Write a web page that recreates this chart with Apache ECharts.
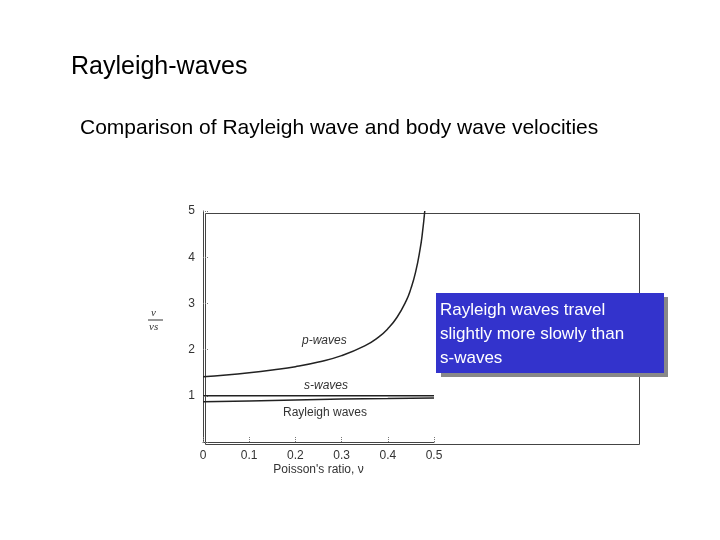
<!DOCTYPE html>
<html>
<head>
<meta charset="utf-8">
<script src="https://cdn.jsdelivr.net/npm/echarts@6/dist/echarts.min.js"></script>
<style>html,body{margin:0;background:#fff}#main{width:720px;height:540px}</style>
</head>
<body>
<div id="main"></div>
<script>
var poisson = [0, 0.05, 0.1, 0.15, 0.2, 0.25, 0.3, 0.35, 0.38, 0.4, 0.42, 0.44, 0.45, 0.46, 0.47, 0.475, 0.48];
var pWaves = [1.41, 1.45, 1.5, 1.56, 1.63, 1.73, 1.87, 2.08, 2.27, 2.45, 2.7, 3.06, 3.32, 3.67, 4.18, 4.53, 5.0];
var sX = [0, 0.5];
var sWaves = [1, 1];
var rayX = [0, 0.1, 0.2, 0.3, 0.4, 0.5];
var rayleigh = [0.87, 0.89, 0.91, 0.93, 0.94, 0.955];
var xTicks = [0, 0.1, 0.2, 0.3, 0.4, 0.5];

function pairs(xs, ys) { return xs.map(function (x, i) { return [x, ys[i]]; }); }

var chart = echarts.init(document.getElementById('main'));
var lineStyle = { color: '#222', width: 1.5 };
var tickStyle = { show: true, inside: true, length: 5, lineStyle: { color: '#777', type: 'dotted' } };
var option = {
  animation: false,
  title: [
    { text: 'Rayleigh-waves', left: 66, top: 50, textStyle: { fontFamily: 'Liberation Sans', fontWeight: 'normal', fontSize: 25, color: '#000' } },
    { text: 'Comparison of Rayleigh wave and body wave velocities', left: 75, top: 113, textStyle: { fontFamily: 'Liberation Sans', fontWeight: 'normal', fontSize: 21, color: '#000' } }
  ],
  grid: { left: 203, right: 286, top: 211, bottom: 98 },
  xAxis: {
    type: 'value', min: 0, max: 0.5, interval: 0.1,
    name: "Poisson's ratio, ν", nameLocation: 'middle', nameGap: 22,
    nameTextStyle: { fontFamily: 'Liberation Sans', fontSize: 12, color: '#333' },
    axisLine: { onZero: false, lineStyle: { color: '#444' } },
    axisTick: tickStyle, splitLine: { show: false },
    axisLabel: { fontFamily: 'Liberation Sans', fontSize: 12, color: '#333', margin: 8,
      formatter: function (v) { var s = xTicks.find(function (t) { return Math.abs(t - v) < 1e-9; }); return s === 0 ? '0' : String(s); } }
  },
  yAxis: {
    type: 'value', min: 0, max: 5, interval: 1,
    axisLine: { show: true, lineStyle: { color: '#444' } },
    axisTick: tickStyle, splitLine: { show: false },
    axisLabel: { fontFamily: 'Liberation Sans', fontSize: 12, color: '#333', margin: 8, formatter: function (v) { return v === 0 ? '' : v; } }
  },
  series: [
    { type: 'line', data: pairs(poisson, pWaves), smooth: true, showSymbol: false, lineStyle: lineStyle },
    { type: 'line', data: pairs(sX, sWaves), showSymbol: false, lineStyle: lineStyle },
    { type: 'line', data: pairs(rayX, rayleigh), smooth: true, showSymbol: false, lineStyle: lineStyle }
  ],
  graphic: [
    { type: 'rect', shape: { x: 0, y: 0, width: 434, height: 231 }, left: 203, top: 211, silent: true, style: { fill: 'none', stroke: '#444', lineWidth: 1 } },
    { type: 'text', left: 302, top: 335, style: { text: 'p-waves', fontStyle: 'italic', fontFamily: 'Liberation Sans', fontSize: 12, fill: '#333' } },
    { type: 'text', left: 304, top: 380, style: { text: 's-waves', fontStyle: 'italic', fontFamily: 'Liberation Sans', fontSize: 12, fill: '#333' } },
    { type: 'text', left: 283, top: 407, style: { text: 'Rayleigh waves', fontFamily: 'Liberation Sans', fontSize: 12, fill: '#333' } },
    { type: 'text', left: 151, top: 308, style: { text: 'v', fontStyle: 'italic', fontFamily: 'Liberation Serif', fontSize: 11, fill: '#333' } },
    { type: 'line', shape: { x1: 148, y1: 320, x2: 163, y2: 320 }, style: { stroke: '#333', lineWidth: 1 } },
    { type: 'text', left: 149, top: 322, style: { text: 'vs', fontStyle: 'italic', fontFamily: 'Liberation Serif', fontSize: 11, fill: '#333' } },
    { type: 'rect', shape: { x: 441, y: 297, width: 227, height: 80 }, style: { fill: '#888' } },
    { type: 'rect', shape: { x: 436, y: 293, width: 228, height: 80 }, style: { fill: '#3333cc' } },
    { type: 'text', left: 440, top: 298, style: { width: 220, text: 'Rayleigh waves travel\nslightly more slowly than\ns-waves', align: 'center', x: 550, lineHeight: 24, fontFamily: 'Liberation Sans', fontSize: 17, fill: '#fff' } }
  ]
};
chart.setOption(option);
</script>
</body>
</html>
